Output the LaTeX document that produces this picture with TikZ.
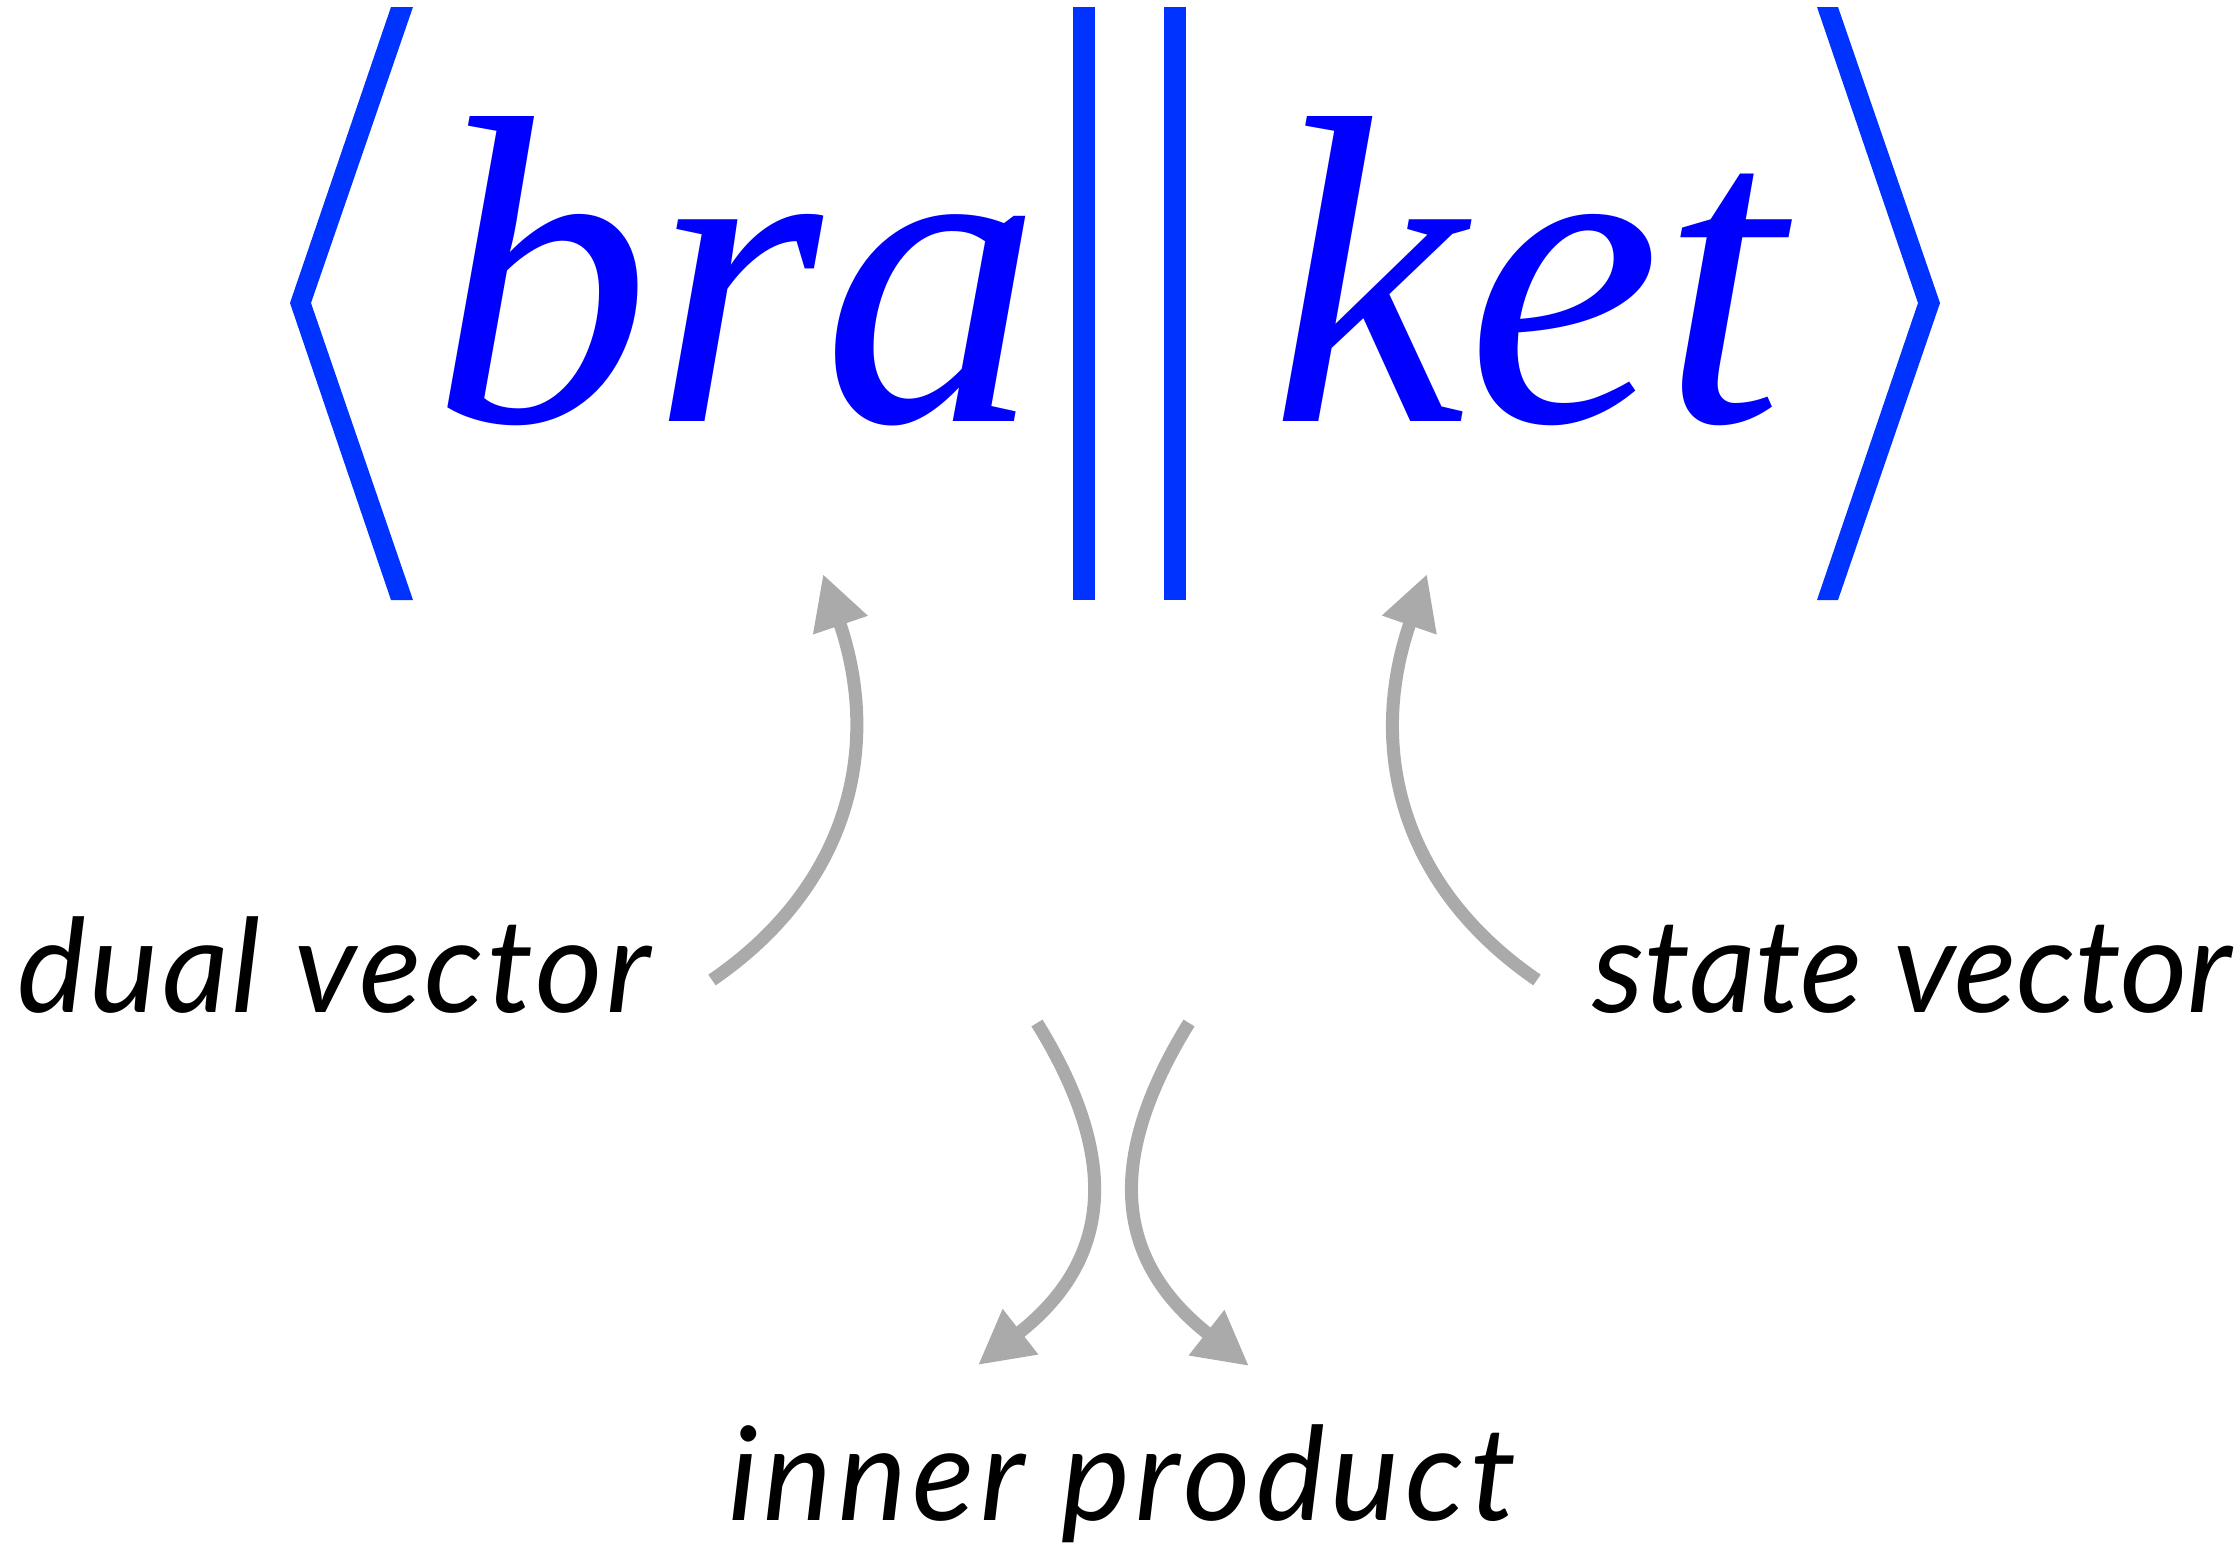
\documentclass[tikz,border=0pt]{standalone}
\usepackage{fontspec}
\setmainfont{Liberation Serif}
\newfontfamily\handfont{Lato}
\usetikzlibrary{arrows.meta}
\definecolor{bkblue}{RGB}{0,51,255}
\definecolor{txtblue}{RGB}{0,0,255}
\definecolor{ptrgray}{RGB}{170,170,170}

\begin{document}
\begin{tikzpicture}[x=0.01cm,y=-0.01cm,
  word/.style={text=txtblue,inner sep=0pt,anchor=base,font=\fontsize{125}{125}\selectfont\itshape},
  lbl/.style={inner sep=0pt,anchor=base,font=\handfont\itshape\fontsize{37}{37}\selectfont},
  ptr/.style={draw=ptrgray,line width=0.13cm,-{Triangle[length=0.54cm,width=0.54cm]}}]
\useasboundingbox (0,0) rectangle (2238,1563);
% brackets and bars
\fill[bkblue] (391,7) -- (413,7) -- (311,303) -- (413,600) -- (391,600) -- (290,303) -- cycle;
\fill[bkblue] (1817,7) -- (1838,7) -- (1940,303) -- (1838,600) -- (1817,600) -- (1918,303) -- cycle;
\fill[bkblue] (1073,7) rectangle (1095,600);
\fill[bkblue] (1164,7) rectangle (1186,600);
\node[word] (bra) at (737,421) {bra};
\node[word] (ket) at (1527,421) {ket};
% labels
\node[lbl] (dual) at (334,1012) {\addfontfeature{LetterSpace=2.6}dual vector};
\node[lbl] (state) at (1912,1012) {state vector};
\node[lbl] (inner) at (1122,1520) {\addfontfeature{LetterSpace=4.3}inner product};
\coordinate (dual-out) at (712,980);
\coordinate (bra-in) at (823,574);
\coordinate (state-out) at (1537,980);
\coordinate (ket-in) at (1427,574);
\coordinate (bra-out) at (1037,1023);
\coordinate (inner-l) at (978,1365);
\coordinate (ket-out) at (1189,1023);
\coordinate (inner-r) at (1249,1366);
\draw[ptr] (dual-out) .. controls (852,884) and (881,744) .. (bra-in);
\draw[ptr] (state-out) .. controls (1397,884) and (1368,744) .. (ket-in);
\draw[ptr] (bra-out) .. controls (1121,1159) and (1112,1260) .. (inner-l);
\draw[ptr] (ket-out) .. controls (1105,1159) and (1114,1260) .. (inner-r);
\end{tikzpicture}
\end{document}
